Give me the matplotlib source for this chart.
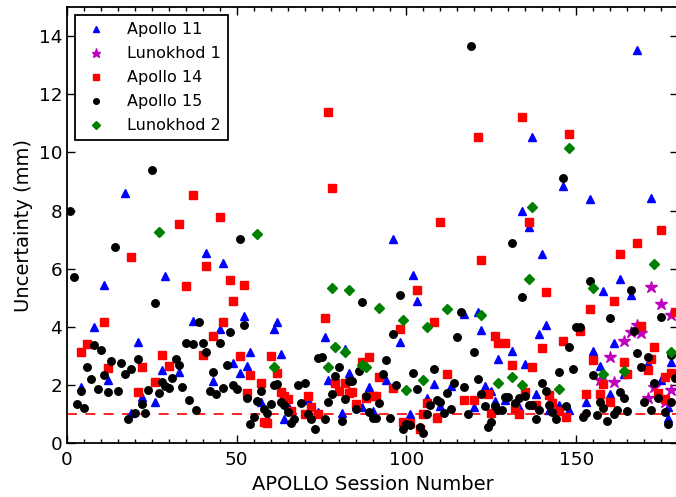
import matplotlib
matplotlib.use("Agg")
import matplotlib.pyplot as plt
from matplotlib.ticker import MultipleLocator

# ---------------- data (session number, uncertainty mm) ----------------
a11_x = [4, 8, 11, 12, 17, 19, 21, 22, 26, 28, 29, 33, 37, 41, 43, 45,
         46, 52, 62, 61, 76, 82, 77, 83, 87, 81, 74, 71, 64, 65, 63, 53, 54, 51, 49, 57, 59,
         96, 134, 102, 103, 98, 117, 121, 122, 131, 127, 94, 108, 89, 113, 123, 125, 90,
         101, 106, 110, 120, 126, 129,
         168, 137, 146, 154, 172, 136, 140, 163, 158, 166, 141, 139, 161, 155, 157, 171,
         135, 175, 178, 164, 138, 133, 142, 145, 148, 153, 160, 177, 177]
a11_y = [1.94, 3.98, 5.43, 2.17, 8.62, 1.02, 3.46, 1.59, 1.41, 2.50, 5.74, 2.44, 4.21, 6.53, 2.13, 3.92,
         6.18, 4.37, 4.15, 3.91, 3.65, 3.23, 2.17, 2.40, 1.24, 1.02, 1.08, 1.48, 0.82, 1.27, 3.06, 2.65, 3.12, 2.42, 2.76, 1.40, 0.85,
         7.03, 8.00, 5.78, 4.90, 3.46, 4.44, 4.50, 3.90, 3.18, 2.88, 2.17, 2.02, 1.93, 1.96, 1.96, 1.78, 1.10,
         1.00, 1.54, 1.28, 1.24, 1.44, 1.48,
         13.54, 10.54, 8.83, 8.40, 8.44, 7.44, 6.52, 5.66, 5.22, 5.09, 4.06, 3.74, 3.44, 3.16, 2.66, 2.74,
         2.72, 2.17, 2.78, 2.38, 1.69, 1.24, 1.14, 1.31, 1.14, 1.40, 1.68, 0.85, 1.25]

l1_x = [172, 175, 178, 168, 166, 169, 164, 160, 157, 161, 173, 178, 171, 176]
l1_y = [5.38, 4.80, 4.40, 4.06, 3.82, 3.79, 3.52, 2.95, 2.17, 2.10, 1.94, 1.82, 1.54, 1.42]

a14_x = [37, 33, 45, 19, 41, 35, 11, 43, 4, 6, 40, 28, 30, 22, 12, 26, 21, 77, 78,
         48, 52, 49, 46, 76, 89, 87, 79, 82, 80, 83, 84, 85, 88, 74, 72, 70, 71, 66, 65,
         64, 63, 62, 60, 57, 54, 51, 53, 58, 59,
         134, 121, 110, 122, 103, 108, 98, 126, 127, 129, 131, 92, 112, 96, 124, 91, 90,
         99, 101, 104, 105, 106, 109, 117, 120, 125, 132, 133,
         148, 136, 175, 168, 163, 141, 161, 179, 154, 151, 169, 146, 140, 173, 155, 164,
         172, 137, 171, 165, 158, 176, 178, 174, 142, 135, 138, 143, 145, 147, 153, 157,
         160, 176]
a14_y = [8.54, 7.53, 7.77, 6.41, 6.10, 5.40, 4.16, 3.68, 3.14, 3.39, 3.03, 3.03, 2.66, 2.61, 2.57, 2.09, 1.74, 11.41, 8.77,
         5.61, 5.44, 4.88, 4.16, 4.30, 2.97, 2.80, 2.05, 2.05, 1.78, 1.71, 1.74, 1.35, 1.54, 0.99, 1.25, 0.99, 1.63, 1.10, 1.51,
         1.62, 1.74, 2.40, 2.99, 2.07, 2.34, 2.99, 1.71, 0.73, 0.68,
         11.23, 10.54, 7.60, 6.30, 5.26, 4.17, 3.94, 3.68, 3.43, 3.45, 2.70, 2.28, 2.37, 1.88, 1.69, 1.63, 1.63,
         0.73, 0.70, 0.49, 1.00, 1.36, 0.85, 1.48, 1.48, 1.02, 1.19, 1.01,
         10.63, 7.62, 7.33, 6.90, 6.52, 5.19, 4.87, 4.52, 4.60, 3.86, 4.01, 3.51, 3.27, 3.29, 2.86, 2.80,
         2.88, 2.60, 2.51, 2.37, 2.02, 2.28, 2.40, 1.71, 1.65, 1.74, 1.31, 1.36, 1.10, 0.90, 1.69, 1.69,
         1.42, 1.50]

a15_x = [1, 2, 25, 14, 26, 39, 45, 8, 10, 35, 37, 40, 41, 13, 16, 21, 32, 33, 19, 6, 17, 11, 7,
         31, 43, 28, 29, 30, 34, 4, 9, 12, 15, 24, 27, 22, 3, 5, 36, 38, 42, 44, 20, 18, 23,
         51, 52, 48, 87, 74, 75, 80, 79, 83, 84, 86, 78, 82, 77, 88, 89, 85, 81, 76, 73, 72,
         71, 69, 68, 70, 67, 66, 65, 63, 64, 61, 62, 47, 46, 49, 50, 53, 57, 56, 60, 58, 59, 55, 54,
         119, 131, 98, 134, 116, 96, 115, 120, 94, 93, 102, 108, 114, 121, 97, 103, 112, 117,
         122, 129, 130, 92, 90, 91, 95, 100, 101, 99, 104, 105, 107, 109, 110, 111, 106, 113,
         118, 123, 126, 124, 125, 127, 128, 132,
         146, 154, 166, 175, 160, 150, 151, 167, 148, 168, 171, 169, 155, 145, 149, 179, 178,
         173, 140, 141, 135, 133, 136, 137, 138, 139, 142, 143, 144, 147, 152, 153, 157, 158,
         156, 159, 161, 162, 163, 164, 165, 170, 172, 174, 178, 176, 177]
a15_y = [7.98, 5.73, 9.39, 6.75, 4.83, 4.16, 3.44, 3.37, 3.20, 3.44, 3.39, 3.44, 3.12, 2.82, 2.77, 2.90, 2.90, 2.69, 2.53, 2.61, 2.37, 2.34, 2.21,
         2.25, 2.43, 2.11, 1.95, 1.90, 1.92, 1.80, 1.87, 1.75, 1.79, 1.82, 1.72, 1.35, 1.33, 1.19, 1.48, 1.14, 1.78, 1.70, 1.04, 0.84, 1.03,
         7.02, 4.05, 3.81, 4.84, 2.92, 2.95, 2.62, 2.30, 2.14, 2.13, 2.48, 1.69, 1.50, 1.40, 1.63, 1.08, 1.18, 0.76, 0.84, 0.48, 0.82,
         1.01, 1.39, 2.00, 2.05, 0.82, 0.70, 1.08, 1.40, 1.31, 1.98, 2.02, 2.69, 1.89, 2.01, 1.85, 1.54, 1.80, 1.46, 1.35, 1.17, 1.04, 0.90, 0.65,
         13.68, 6.87, 5.09, 5.03, 4.50, 3.74, 3.66, 3.12, 2.84, 2.36, 2.42, 2.53, 2.07, 2.19, 1.98, 1.86, 1.73, 1.92,
         1.70, 1.57, 1.57, 1.39, 0.85, 0.85, 0.86, 0.65, 0.62, 0.48, 0.56, 0.35, 1.31, 1.48, 1.42, 1.04, 0.99, 1.17,
         0.99, 1.28, 1.27, 0.54, 0.73, 1.14, 1.14, 1.39,
         9.13, 5.56, 5.27, 4.35, 4.31, 3.98, 3.98, 3.85, 3.31, 3.11, 2.97, 2.62, 2.33, 2.44, 2.56, 2.24, 3.03,
         2.05, 2.05, 1.78, 1.63, 1.54, 1.31, 1.31, 0.82, 1.14, 1.31, 1.05, 0.83, 1.27, 0.90, 1.02, 1.42, 1.19,
         0.96, 0.77, 0.99, 1.14, 1.77, 1.56, 1.10, 1.40, 1.14, 1.54, 1.42, 1.08, 0.65]

l2_x = [27, 56, 78, 83, 79, 82, 77, 87, 88, 61, 92, 99, 106, 112, 122, 131, 127, 105, 100,
        148, 137, 136, 155, 173, 158, 164, 134, 145, 178]
l2_y = [7.27, 7.21, 5.32, 5.26, 3.30, 3.12, 2.60, 2.67, 2.60, 2.62, 4.64, 4.23, 3.99, 4.61, 4.40, 2.28, 2.05, 2.17, 1.82,
        10.14, 8.13, 5.64, 5.34, 6.17, 2.37, 2.49, 1.98, 1.87, 3.13]

threshold = 1.0

# ---------------- figure ----------------
fig = plt.figure(figsize=(6.76, 4.97), dpi=100)
ax = fig.add_axes([0.0991, 0.1087, 0.9040, 0.8768])

ms = 5.4
ax.plot(a11_x, a11_y, linestyle='none', marker='^', color='blue', mec='blue', ms=ms + 0.8, label='Apollo 11')
ax.plot(l1_x, l1_y, linestyle='none', marker='*', color='m', mec='m', ms=ms + 3.4, label='Lunokhod 1')
ax.plot(a14_x, a14_y, linestyle='none', marker='s', color='red', mec='red', ms=ms - 0.2, label='Apollo 14')
ax.plot(a15_x, a15_y, linestyle='none', marker='o', color='black', mec='black', ms=ms, label='Apollo 15')
ax.plot(l2_x, l2_y, linestyle='none', marker='D', color='green', mec='green', ms=ms - 0.4, label='Lunokhod 2')
ax.axhline(threshold, color='red', linestyle=(0, (6, 5)), lw=1.2, zorder=0.5)

ax.set_xlim(0, 180)
ax.set_ylim(0, 15)
ax.xaxis.set_major_locator(MultipleLocator(50))
ax.xaxis.set_minor_locator(MultipleLocator(5))
ax.yaxis.set_major_locator(MultipleLocator(2))
ax.tick_params(which='both', direction='in', top=True, right=True, labelsize=13.2, width=1)
ax.tick_params(which='major', length=6)
ax.tick_params(which='minor', length=3)
ax.tick_params(axis='x', pad=6)
for s in ax.spines.values():
    s.set_linewidth(1.3)

ax.set_xlabel('APOLLO Session Number', fontsize=14)
ax.set_ylabel('Uncertainty (mm)', fontsize=14)

leg = ax.legend(loc='upper left', numpoints=1, fontsize=11.5, fancybox=False,
                edgecolor='black', framealpha=1, markerscale=0.75,
                borderaxespad=0.5, labelspacing=0.56, handlelength=1.7,
                handletextpad=1.1, borderpad=0.45)
leg.get_frame().set_linewidth(1.3)

fig.savefig('out.png', dpi=100)
